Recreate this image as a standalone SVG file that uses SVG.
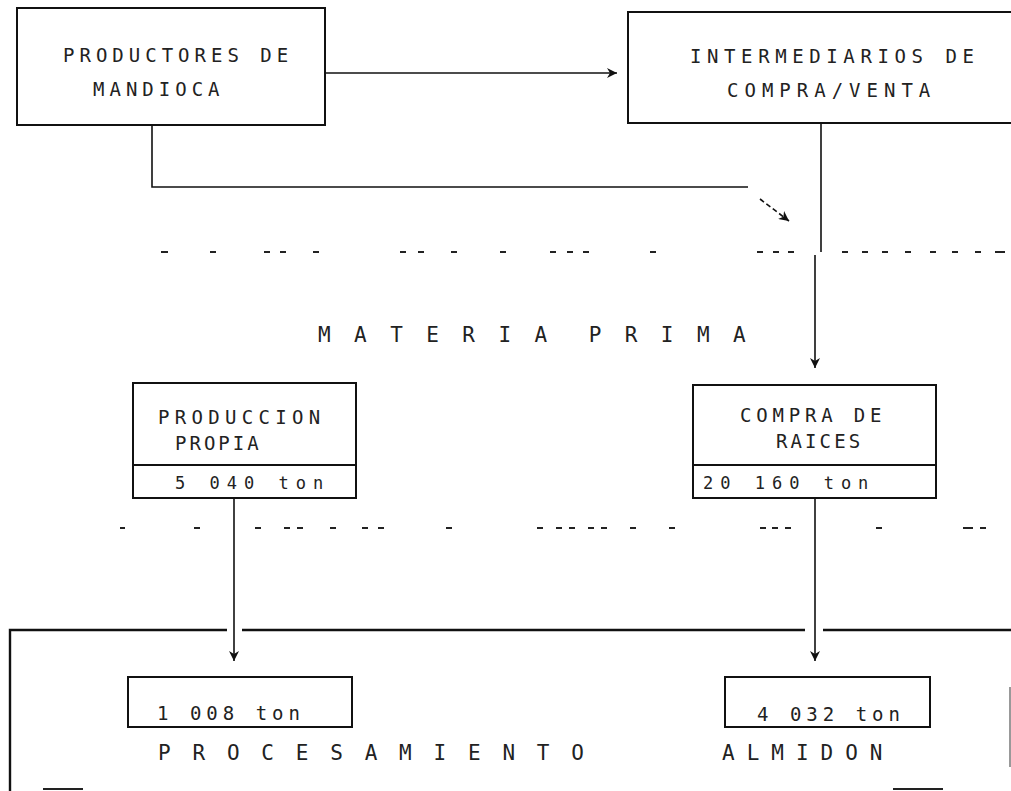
<svg xmlns="http://www.w3.org/2000/svg" width="1011" height="791" viewBox="0 0 1011 791">
<defs>
<marker id="ah" viewBox="0 0 10 10" refX="10" refY="5" markerWidth="10" markerHeight="10" markerUnits="userSpaceOnUse" orient="auto">
<path d="M0,0 L10,5 L0,10 L3,5 z" fill="#111"/>
</marker>
<style>
.box{fill:none;stroke:#111;stroke-width:2}
.ln{fill:none;stroke:#111;stroke-width:1.6}
.t{font-family:"DejaVu Sans Mono","Liberation Mono",monospace;font-size:19px;fill:#222;letter-spacing:5px}
.s{font-family:"DejaVu Sans Mono","Liberation Mono",monospace;font-size:17px;fill:#222;letter-spacing:7px}
.big{font-family:"DejaVu Sans Mono","Liberation Mono",monospace;font-size:21px;fill:#222;white-space:pre}
.dash{fill:none;stroke:#222;stroke-width:2.2}
</style>
</defs>
<rect width="1011" height="791" fill="#fff"/>

<g id="productores">
<rect class="box" x="17" y="8" width="308" height="117"/>
<text class="t" x="63" y="62">PRODUCTORES DE</text>
<text class="t" x="93" y="96">MANDIOCA</text>
</g>

<g id="intermediarios">
<path class="box" d="M1011,12 H628 V123 H1011"/>
<text class="t" x="690" y="63" style="letter-spacing:5.6px">INTERMEDIARIOS DE</text>
<text class="t" x="727" y="97" style="letter-spacing:6px">COMPRA/VENTA</text>
</g>

<g id="separators">
<path class="dash" d="M161,252h7 M210,252h6 M264,252h6 M280,252h6 M313,252h6 M400,252h6 M418,252h6 M451,252h6 M500,252h6 M550,252h6 M567,252h6 M583,252h6 M650,252h6 M757,252h6 M773,252h6 M788,252h6 M842,252h6 M862,252h6 M882,252h6 M905,252h6 M930,252h6 M952,252h6 M975,252h6 M995,252h10"/>
<path class="dash" d="M120,528h5 M194,528h6 M255,528h6 M284,528h6 M297,528h6 M330,528h6 M362,528h6 M378,528h6 M446,528h6 M537,528h6 M556,528h6 M569,528h6 M588,528h6 M601,528h6 M630,528h6 M669,528h6 M760,528h6 M772,528h6 M785,528h6 M876,528h6 M963,528h10 M980,528h6"/>
</g>

<g id="materia-prima">
<text class="big" x="318" y="342" xml:space="preserve" style="letter-spacing:5.4px">M A T E R I A  P R I M A</text>
</g>

<g id="produccion-propia">
<rect class="box" x="133" y="383" width="223" height="115"/>
<line class="box" x1="133" y1="465" x2="356" y2="465"/>
<text class="t" x="158" y="424" style="letter-spacing:5.3px">PRODUCCION</text>
<text class="t" x="175" y="450" style="letter-spacing:3px">PROPIA</text>
<text class="s" x="175" y="489">5 040 ton</text>
</g>

<g id="compra-raices">
<rect class="box" x="693" y="385" width="243" height="113"/>
<line class="box" x1="693" y1="465" x2="936" y2="465"/>
<text class="t" x="740" y="422" style="letter-spacing:4.8px">COMPRA DE</text>
<text class="t" x="776" y="448" style="letter-spacing:3.1px">RAICES</text>
<text class="s" x="703" y="489">20 160 ton</text>
</g>

<g id="procesamiento">
<path d="M10,791 V630 H227 M242,630 H805 M823,630 H1011" fill="none" stroke="#111" stroke-width="2.4"/>
<path d="M1010,687 V767" fill="none" stroke="#555" stroke-width="1.2"/>
<path d="M43,789 H83 M893,789 H943" fill="none" stroke="#222" stroke-width="2"/>
<text class="big" x="158" y="760" style="letter-spacing:21.8px">PROCESAMIENTO</text>
<text class="big" x="722" y="760" style="letter-spacing:12px">ALMIDON</text>
</g>

<g id="cant-propia">
<rect class="box" x="128" y="677" width="224" height="50"/>
<text class="t" x="157" y="720" style="letter-spacing:5px">1 008 ton</text>
</g>

<g id="cant-compra">
<rect class="box" x="725" y="677" width="205" height="50"/>
<text class="t" x="757" y="721" style="letter-spacing:5px">4 032 ton</text>
</g>

<g id="connectors">
<line class="ln" x1="325" y1="73" x2="617" y2="73" marker-end="url(#ah)"/>
<path class="ln" d="M152,125 V187 H748"/>
<line class="ln" x1="760" y1="199" x2="789" y2="221" stroke-dasharray="5 3" marker-end="url(#ah)"/>
<path class="ln" d="M821,123 V252 M815,255 V368" marker-end="url(#ah)"/>
<line class="ln" x1="234" y1="498" x2="234" y2="661" marker-end="url(#ah)"/>
<line class="ln" x1="815" y1="498" x2="815" y2="661" marker-end="url(#ah)"/>
</g>
</svg>
